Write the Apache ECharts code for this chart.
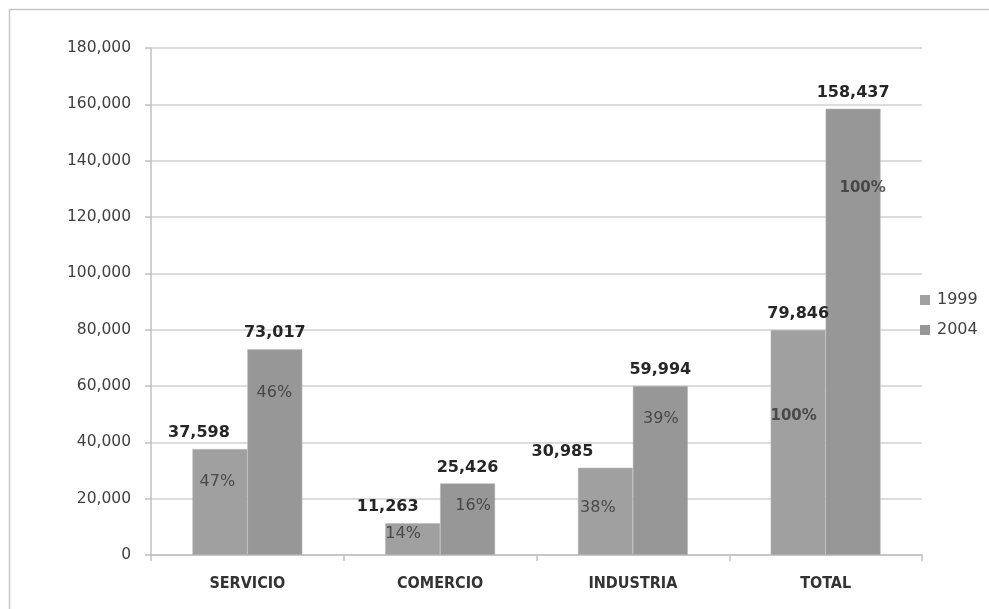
<!DOCTYPE html>
<html>
<head>
<meta charset="utf-8">
<script src="https://cdn.jsdelivr.net/npm/echarts@6/dist/echarts.min.js"></script>
<style>html,body{margin:0;padding:0;background:#fff;}#c{width:989px;height:609px;}</style>
</head>
<body>
<div id="c"></div>
<script>
// ---- data ----
var categories = ['SERVICIO', 'COMERCIO', 'INDUSTRIA', 'TOTAL'];
var seriesNames = ['1999', '2004'];
var values1999 = [37598, 11263, 30985, 79846];
var values2004 = [73017, 25426, 59994, 158437];
var pct1999 = ['47%', '14%', '38%', '100%'];
var pct2004 = ['46%', '16%', '39%', '100%'];
// vertical placement (in axis units) of the percentage labels
var pctLevel1999 = [26000, 7500, 16700, 49300];
var pctLevel2004 = [57500, 17400, 48500, 130300];
var yTicks = [0, 20000, 40000, 60000, 80000, 100000, 120000, 140000, 160000, 180000];

// ---- layout (label nudges, px) ----
var layout = {
  valShift1999: [-21, -25, -43, 0],
  valShift2004: [0, 0, 0, 0],
  pctShift1999: [-30, -37, -35, -32],
  pctShift2004: [27, 33, 28, 37],
  pctBold: [false, false, false, true]
};

var FONT = 'DejaVu Sans';
var c1999 = '#a0a0a0', c2004 = '#979797';

function barData(vals, shifts) {
  return vals.map(function (v, i) {
    return { value: v, label: { offset: [shifts[i], 0] } };
  });
}
function pctData(levels, texts, shifts) {
  return levels.map(function (v, i) {
    return {
      value: [i, v],
      name: texts[i],
      label: { offset: [shifts[i], 0], fontWeight: layout.pctBold[i] ? 'bold' : 'normal',
                fontSize: layout.pctBold[i] ? 15 : 16 }
    };
  });
}

var chart = echarts.init(document.getElementById('c'), null, { renderer: 'canvas' });
chart.setOption({
  animation: false,
  backgroundColor: '#ffffff',
  graphic: [
    { type: 'line', silent: true, z: -10,
      shape: { x1: 9, y1: 9.5, x2: 989, y2: 9.5 },
      style: { stroke: '#c6c6c6', lineWidth: 1.5 } },
    { type: 'line', silent: true, z: -10,
      shape: { x1: 9.5, y1: 9, x2: 9.5, y2: 609 },
      style: { stroke: '#c6c6c6', lineWidth: 1.5 } }
  ],
  grid: { left: 151, right: 67, top: 48, bottom: 54, containLabel: false },
  legend: {
    data: seriesNames,
    orient: 'vertical',
    left: 915, top: 287,
    itemWidth: 10, itemHeight: 10, itemGap: 14,
    icon: 'rect',
    itemStyle: { borderWidth: 0 },
    textStyle: { fontFamily: FONT, fontSize: 16, color: '#404040', padding: [0, 0, 0, 2] },
    selectedMode: false
  },
  xAxis: {
    type: 'category',
    data: categories,
    axisLine: { lineStyle: { color: '#c0c0c0', width: 1.5 } },
    axisTick: { show: true, alignWithLabel: false, length: 6, lineStyle: { color: '#c0c0c0', width: 1.5 } },
    axisLabel: { fontFamily: '"Liberation Sans Narrow", "DejaVu Sans Condensed", sans-serif', fontWeight: 'bold', fontSize: 16, color: '#333333', margin: 21 }
  },
  yAxis: {
    type: 'value',
    min: 0, max: 180000, interval: 20000,
    axisLine: { show: true, lineStyle: { color: '#c0c0c0', width: 1.5 } },
    axisTick: { show: true, length: 6, lineStyle: { color: '#c0c0c0', width: 1.5 } },
    splitLine: { lineStyle: { color: '#d0d0d0', width: 1.5 } },
    axisLabel: {
      fontFamily: FONT, fontSize: 15.5, color: '#404040', margin: 20,
      formatter: function (v) { return yTicks.indexOf(v) >= 0 ? v.toLocaleString('en-US') : ''; }
    }
  },
  series: [
    {
      name: seriesNames[0], type: 'bar', barGap: '0%', barCategoryGap: '43%',
      data: barData(values1999, layout.valShift1999),
      itemStyle: { color: c1999, borderColor: '#b8b8b8', borderWidth: 0.5 },
      label: { show: true, position: 'top', distance: 8, fontFamily: FONT, fontWeight: 'bold', fontSize: 16, color: '#262626',
               formatter: function (p) { return p.value.toLocaleString('en-US'); } }
    },
    {
      name: seriesNames[1], type: 'bar', barGap: '0%', barCategoryGap: '43%',
      data: barData(values2004, layout.valShift2004),
      itemStyle: { color: c2004, borderColor: '#b8b8b8', borderWidth: 0.5 },
      label: { show: true, position: 'top', distance: 8, fontFamily: FONT, fontWeight: 'bold', fontSize: 16, color: '#262626',
               formatter: function (p) { return p.value.toLocaleString('en-US'); } }
    },
    {
      name: 'pct1999', type: 'scatter', symbolSize: 1, z: 5,
      itemStyle: { color: 'rgba(0,0,0,0)' },
      data: pctData(pctLevel1999, pct1999, layout.pctShift1999),
      label: { show: true, position: 'inside', fontFamily: FONT, fontSize: 16, color: '#333333',
               formatter: function (p) { return p.name; } }
    },
    {
      name: 'pct2004', type: 'scatter', symbolSize: 1, z: 5,
      itemStyle: { color: 'rgba(0,0,0,0)' },
      data: pctData(pctLevel2004, pct2004, layout.pctShift2004),
      label: { show: true, position: 'inside', fontFamily: FONT, fontSize: 16, color: '#333333',
               formatter: function (p) { return p.name; } }
    }
  ]
});
</script>
</body>
</html>
